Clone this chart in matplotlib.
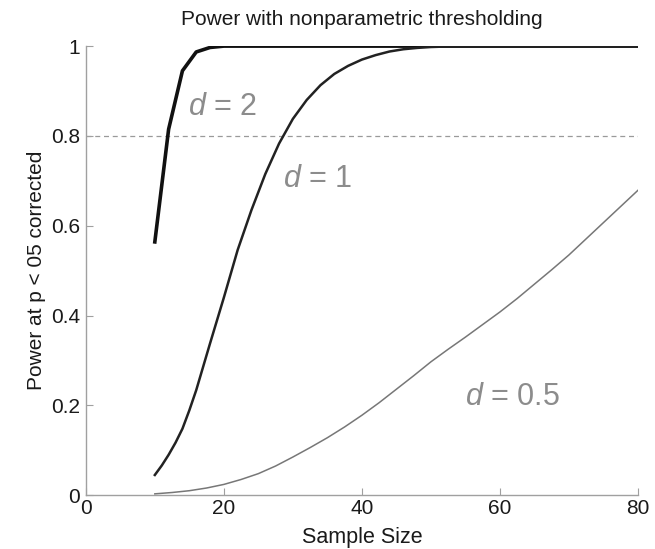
import numpy as np
import matplotlib
matplotlib.use("Agg")
import matplotlib.pyplot as plt

plt.rcParams["font.family"] = ["Liberation Sans", "DejaVu Sans"]
plt.rcParams["mathtext.fontset"] = "custom"
plt.rcParams["mathtext.it"] = "Liberation Sans:italic"
plt.rcParams["mathtext.rm"] = "Liberation Sans"

# ---- values --------------------------------------------------------------
n_d2 = [10, 12, 14, 16, 18, 20, 80]
power_d2 = [0.564, 0.815, 0.945, 0.987, 0.997, 1.0, 1.0]

n_d1 = [10, 11, 12, 13, 14, 15, 16, 18, 20, 22, 24, 26, 28, 30, 32, 34, 36,
        38, 40, 42, 44, 46, 48, 50, 52, 55, 80]
power_d1 = [0.045, 0.066, 0.09, 0.117, 0.148, 0.189, 0.234, 0.338, 0.44,
            0.546, 0.635, 0.715, 0.783, 0.838, 0.88, 0.913, 0.938, 0.956,
            0.97, 0.98, 0.988, 0.993, 0.996, 0.998, 0.999, 1.0, 1.0]

n_d05 = [10, 12.5, 15, 17.5, 20, 22.5, 25, 27.5, 30, 32.5, 35, 37.5, 40,
         42.5, 45, 47.5, 50, 52.5, 55, 57.5, 60, 62.5, 65, 67.5, 70, 72.5,
         75, 77.5, 80]
power_d05 = [0.003, 0.006, 0.010, 0.016, 0.024, 0.035, 0.048, 0.065, 0.085,
             0.106, 0.128, 0.152, 0.178, 0.206, 0.236, 0.266, 0.297, 0.325,
             0.352, 0.38, 0.408, 0.438, 0.47, 0.502, 0.535, 0.571, 0.607,
             0.643, 0.679]

threshold = 0.8
x_ticks = [0, 20, 40, 60, 80]
y_ticks = [0, 0.2, 0.4, 0.6, 0.8, 1]
y_ticklabels = ["0", "0.2", "0.4", "0.6", "0.8", "1"]

fig = plt.figure(figsize=(6.55, 5.49), dpi=100)
ax = fig.add_axes([0.131, 0.098, 0.843, 0.818])

ax.axhline(threshold, color="#9a9a9a", lw=0.9, ls=(0, (4, 3)), zorder=1)
ax.plot(n_d2, power_d2, color="#111111", lw=2.6, solid_joinstyle="round", zorder=3)
ax.plot(n_d1, power_d1, color="#222222", lw=1.8, zorder=3)
ax.plot(n_d05, power_d05, color="#777777", lw=1.1, zorder=3)

lab_kw = dict(color="#8c8c8c", fontsize=22, ha="left", va="baseline")
ax.text(14.8, 0.846, r"$d$ = 2", **lab_kw)
ax.text(28.6, 0.686, r"$d$ = 1", **lab_kw)
ax.text(54.9, 0.200, r"$d$ = 0.5", **lab_kw)

ax.set_xlim(0, 80)
ax.set_ylim(0, 1)
ax.set_xticks(x_ticks)
ax.set_yticks(y_ticks)
ax.set_yticklabels(y_ticklabels)

for side in ("top", "right"):
    ax.spines[side].set_visible(False)
for side in ("left", "bottom"):
    ax.spines[side].set_color("#a0a0a0")
    ax.spines[side].set_linewidth(1.0)
ax.tick_params(direction="in", length=5, width=0.8, color="#a0a0a0",
               labelsize=15, labelcolor="#1a1a1a")
ax.tick_params(axis="y", pad=4)
ax.tick_params(axis="x", pad=3)

ax.set_title("Power with nonparametric thresholding", fontsize=15,
             color="#1a1a1a", pad=15)
ax.set_xlabel("Sample Size", fontsize=15.5, color="#1a1a1a", labelpad=6)
ax.set_ylabel("Power at p < 05 corrected", fontsize=15, color="#1a1a1a",
              labelpad=4)

fig.savefig("out.png", dpi=100)
